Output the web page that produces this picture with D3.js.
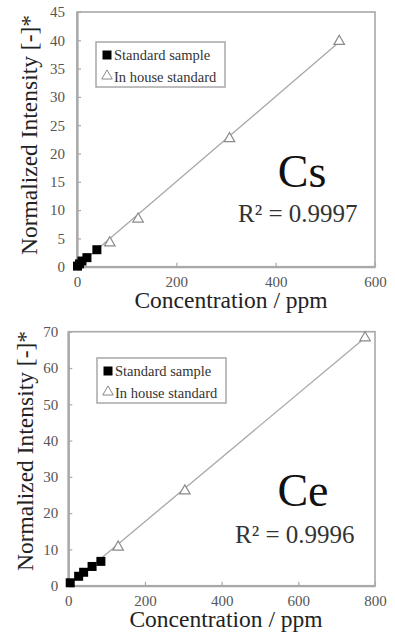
<!DOCTYPE html>
<html lang="en">
<head>
<meta charset="UTF-8">
<title>Cs / Ce calibration</title>
<script src="https://d3js.org/d3.v7.min.js"></script>
<style>
  body { margin: 0; background: #fff; }
  svg text { font-family: "Liberation Serif", "Times New Roman", serif; }
</style>
</head>
<body>
<svg id="chart" width="395" height="636"></svg>
<script>
// Cs panel data [ppm, intensity]
const csStandard = [[1, 0.1], [5, 0.5], [10, 1.0], [20, 1.6], [40, 3.0]];
const csInHouse = [[66, 4.4], [123, 8.6], [307, 22.8], [528, 40.0]];
const csXTicks = [0, 200, 400, 600];
const csYTicks = [0, 5, 10, 15, 20, 25, 30, 35, 40, 45];

// Ce panel data
const ceStandard = [[5, 0.8], [27, 2.6], [40, 3.7], [62, 5.3], [85, 6.7]];
const ceInHouse = [[130, 10.9], [304, 26.4], [774, 68.6]];
const ceXTicks = [0, 200, 400, 600, 800];
const ceYTicks = [0, 10, 20, 30, 40, 50, 60, 70];

const legendLabels = ["Standard sample", "In house standard"];

const svg = d3.select("#chart");
const gray = "#a8a8a8";
const serif = '"Liberation Serif", "Times New Roman", serif';

function fit(points) {
  const mx = d3.mean(points, d => d[0]), my = d3.mean(points, d => d[1]);
  let sxy = 0, sxx = 0;
  points.forEach(d => { sxy += (d[0] - mx) * (d[1] - my); sxx += (d[0] - mx) ** 2; });
  const b = sxy / sxx;
  return { b: b, a: my - b * mx };
}

function panel(p) {
  const x = d3.scaleLinear().domain([0, d3.max(p.xTicks)]).range([p.left, p.right]);
  const y = d3.scaleLinear().domain([0, d3.max(p.yTicks)]).range([p.bottom, p.top]);
  const g = svg.append("g").attr("font-family", serif);

  // frame
  g.append("rect")
    .attr("x", p.left).attr("y", p.top)
    .attr("width", p.right - p.left).attr("height", p.bottom - p.top)
    .attr("fill", "none").attr("stroke", gray).attr("stroke-width", 1.6);

  const xa = g.append("g").attr("transform", `translate(0,${p.bottom})`)
    .call(d3.axisBottom(x).tickValues(p.xTicks).tickSizeInner(-4).tickSizeOuter(0).tickPadding(10));
  const ya = g.append("g").attr("transform", `translate(${p.left},0)`)
    .call(d3.axisLeft(y).tickValues(p.yTicks).tickSizeInner(-4).tickSizeOuter(0).tickPadding(p.yPad));
  [xa, ya].forEach(a => {
    a.attr("font-family", serif).attr("font-size", 15);
    a.select(".domain").attr("stroke", gray).attr("stroke-width", 2.2);
    a.selectAll(".tick line").attr("stroke", gray).attr("stroke-width", 1.2);
    a.selectAll(".tick text").attr("fill", "#555").attr("font-family", serif);
  });

  // regression line
  const all = p.standard.concat(p.inHouse);
  const f = fit(all);
  const x1 = d3.max(all, d => d[0]);
  g.append("line")
    .attr("x1", x(0)).attr("y1", y(Math.max(0, f.a)))
    .attr("x2", x(x1)).attr("y2", y(f.a + f.b * x1))
    .attr("stroke", gray).attr("stroke-width", 1.3);

  const tri = d3.symbol().type(d3.symbolTriangle).size(48);
  g.selectAll(".tri").data(p.inHouse).join("path")
    .attr("transform", d => `translate(${x(d[0])},${y(d[1]) + 1})`)
    .attr("d", tri).attr("fill", "#fff").attr("stroke", "#8a8a8a").attr("stroke-width", 1.2);

  g.selectAll(".sq").data(p.standard).join("rect")
    .attr("x", d => x(d[0]) - 4.5).attr("y", d => y(d[1]) - 4.5)
    .attr("width", 9).attr("height", 9).attr("fill", "#000");

  // legend
  const L = g.append("g").attr("transform", `translate(${p.legend[0]},${p.legend[1]})`);
  L.append("rect").attr("width", 129).attr("height", 45)
    .attr("fill", "#fff").attr("stroke", gray).attr("stroke-width", 1.5);
  L.append("rect").attr("x", 6.5).attr("y", 8.5).attr("width", 9).attr("height", 9).attr("fill", "#000");
  L.append("path").attr("transform", "translate(11,34)").attr("d", tri)
    .attr("fill", "#fff").attr("stroke", "#8a8a8a").attr("stroke-width", 1);
  legendLabels.forEach((t, i) => {
    L.append("text").attr("x", 18).attr("y", 18 + i * 21.5)
      .attr("font-size", 14.5).attr("fill", "#333").attr("font-family", serif).text(t);
  });

  // element label and R²
  g.append("text").attr("x", p.elem[0]).attr("y", p.elem[1])
    .attr("font-size", 46).attr("text-anchor", "middle").attr("fill", "#111")
    .attr("font-family", serif).text(p.name);
  g.append("text").attr("x", p.r2[0]).attr("y", p.r2[1])
    .attr("font-size", 25).attr("fill", "#333").attr("font-family", serif).text(p.r2Text);

  // axis titles
  g.append("text").attr("x", p.xTitle[0]).attr("y", p.xTitle[1])
    .attr("font-size", 23.5).attr("text-anchor", "middle").attr("fill", "#222")
    .attr("font-family", serif).text("Concentration / ppm");
  g.append("text")
    .attr("transform", `translate(${p.yTitle[0]},${p.yTitle[1]}) rotate(-90)`)
    .attr("font-size", 23.5).attr("text-anchor", "middle").attr("fill", "#222")
    .attr("font-family", serif).text("Normalized Intensity [-]*");
}

panel({
  name: "Cs", r2Text: "R² = 0.9997",
  standard: csStandard, inHouse: csInHouse, xTicks: csXTicks, yTicks: csYTicks,
  left: 77, right: 375, top: 12, bottom: 266.7, yPad: 12,
  legend: [96, 42], elem: [302, 187], r2: [238, 222],
  xTitle: [231, 308], yTitle: [37, 135]
});

panel({
  name: "Ce", r2Text: "R² = 0.9996",
  standard: ceStandard, inHouse: ceInHouse, xTicks: ceXTicks, yTicks: ceYTicks,
  left: 68.3, right: 375, top: 331.7, bottom: 585.7, yPad: 10,
  legend: [97, 358], elem: [303, 506], r2: [235, 542.5],
  xTitle: [226, 627], yTitle: [33, 451]
});
</script>
</body>
</html>
